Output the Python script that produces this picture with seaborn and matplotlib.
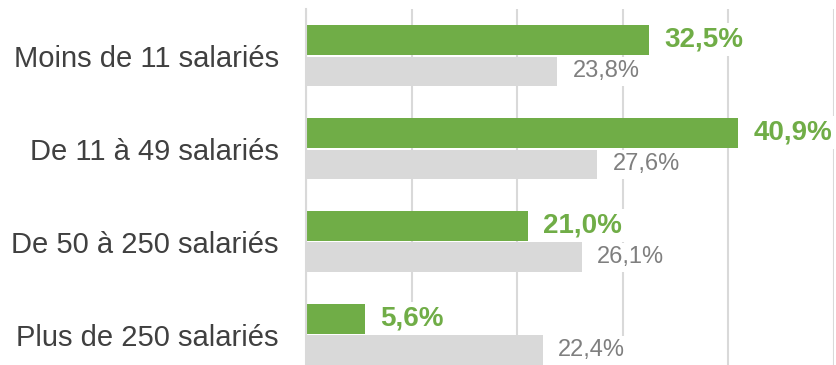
import pandas as pd
import matplotlib.pyplot as plt
import seaborn as sb


# Données
categories = ["Moins de 11 salariés", "De 11 à 49 salariés",
              "De 50 à 250 salariés", "Plus de 250 salariés"]
serie_verte = [32.5, 40.9, 21.0, 5.6]
serie_grise = [23.8, 27.6, 26.1, 22.4]
noms_series = ["Secteur", "Ensemble"]

VERT = "#70AD47"
GRIS = "#D9D9D9"


def format_pct(v):
    return f"{v:.1f}%".replace(".", ",")


def main():
    data = pd.DataFrame({
        "categorie": categories * 2,
        "valeur": serie_verte + serie_grise,
        "serie": [noms_series[0]] * 4 + [noms_series[1]] * 4,
    })

    sb.set_style("white")
    plt.rcParams['font.family'] = ['Liberation Sans', 'DejaVu Sans']

    fig = plt.figure(figsize=(8.36, 3.65), dpi=100)
    ax = fig.add_axes([0.366, 0.0, 0.6316, 0.975])

    sb.barplot(data=data, y="categorie", x="valeur", hue="serie",
               order=categories, hue_order=noms_series,
               palette=[VERT, GRIS], saturation=1, width=0.68, gap=0.06,
               linewidth=0, legend=False, ax=ax, zorder=2)

    # Étiquettes des barres
    styles = [dict(color=VERT, fontweight="bold", fontsize=20),
              dict(color="#7F7F7F", fontsize=17)]
    for cont, st in zip(ax.containers, styles):
        ax.bar_label(cont, fmt=format_pct, padding=11, zorder=4,
                     bbox=dict(facecolor="white", edgecolor="none", pad=2.5),
                     **st)

    ax.set_xlim(0, 50)
    ax.set_ylim(3.328, -0.5)
    ax.set_xticks([0, 10, 20, 30, 40, 50])
    ax.xaxis.grid(True, color=GRIS, linewidth=1.5, zorder=0)
    ax.set_axisbelow(True)
    ax.tick_params(axis="x", bottom=False, labelbottom=False)
    ax.tick_params(axis="y", left=False, labelsize=21, labelcolor="#404040", pad=16)
    ax.set_xlabel("")
    ax.set_ylabel("")
    for side in ["top", "right", "bottom"]:
        ax.spines[side].set_visible(False)
    ax.spines["left"].set_color(GRIS)
    ax.spines["left"].set_linewidth(1.5)

    fig.savefig("out.png", dpi=100)


if __name__ == "__main__":
    main()
